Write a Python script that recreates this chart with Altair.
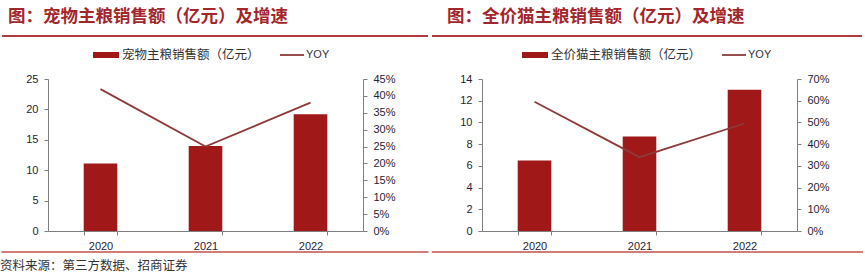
import altair as alt
import pandas as pd

years = ["2020", "2021", "2022"]
dog_sales = [11.1, 14.0, 19.2]
dog_yoy = [0.42, 0.25, 0.38]
cat_sales = [6.5, 8.7, 13.0]
cat_yoy = [0.595, 0.34, 0.495]

dog_title = "图：宠物主粮销售额（亿元）及增速"
cat_title = "图：全价猫主粮销售额（亿元）及增速"
dog_legend = "宠物主粮销售额（亿元）"
cat_legend = "全价猫主粮销售额（亿元）"
yoy_label = "YOY"
source_text = "资料来源：第三方数据、招商证券"

BAR = "#A01818"
LINE = "#8E3A3A"
TITLE = "#A3262B"
RED_LINE = "#B03A3E"
AXIS = "#7F7F7F"
LABEL = "#1F2433"
W, H = 315, 152
CJK = "Noto Sans CJK SC"


def one(txt):
    return pd.DataFrame({"t": [txt]})


def panel(sales, yoy, ymax, yvals, rmax, rvals, title, legend, frame, deco):
    df = pd.DataFrame({"year": years, "sales": sales, "yoy": yoy})
    base = alt.Chart(df)
    x = alt.X("year:N", sort=years,
              scale=alt.Scale(paddingInner=0.68, paddingOuter=0.34),
              axis=alt.Axis(title=None, labelAngle=0, tickBand="extent",
                            domainColor=AXIS, tickColor=AXIS, tickSize=4,
                            labelPadding=5, labelFont="Liberation Sans",
                            labelFontSize=11, labelColor=LABEL, grid=False))
    bars = base.mark_bar(color=BAR).encode(
        x=x,
        y=alt.Y("sales:Q", scale=alt.Scale(domain=[0, ymax], nice=False),
                axis=alt.Axis(title=None, values=yvals, grid=False,
                              domainColor=AXIS, tickColor=AXIS, tickSize=4,
                              labelPadding=6, labelFont="Liberation Sans",
                              labelFontSize=11, labelColor=LABEL)))
    line = base.mark_line(color=LINE, strokeWidth=1.8).encode(
        x=x,
        y=alt.Y("yoy:Q", scale=alt.Scale(domain=[0, rmax], nice=False),
                axis=alt.Axis(title=None, orient="right", values=rvals,
                              format=".0%", grid=False, domainColor=AXIS,
                              tickColor=AXIS, tickSize=4, labelPadding=6,
                              labelFont="Liberation Sans", labelFontSize=11,
                              labelColor=LABEL)))
    fx1, fx2 = frame
    frame_rule = alt.Chart(one("")).mark_rule(opacity=0).encode(
        x=alt.value(fx1), x2=alt.value(fx2), y=alt.value(-79))
    ux1, ux2, bx1, bx2, tx, sw_x, lx = deco
    underline = alt.Chart(one("")).mark_rule(color=RED_LINE, strokeWidth=2).encode(
        x=alt.value(ux1), x2=alt.value(ux2), y=alt.value(-43))
    bottom = alt.Chart(one("")).mark_rule(color="#C0504D", strokeWidth=1.5).encode(
        x=alt.value(bx1), x2=alt.value(bx2), y=alt.value(173))
    ttl = alt.Chart(one(title)).mark_text(
        align="left", baseline="alphabetic", font=CJK, fontSize=17.5,
        fontWeight="bold", color=TITLE).encode(
        text="t:N", x=alt.value(tx), y=alt.value(-57))
    sw = alt.Chart(one("")).mark_rect(color=BAR).encode(
        x=alt.value(sw_x), x2=alt.value(sw_x + 26),
        y=alt.value(-27), y2=alt.value(-21))
    lt = alt.Chart(one(legend)).mark_text(
        align="left", baseline="middle", font=CJK, fontSize=12.5,
        color="#333333").encode(text="t:N", x=alt.value(sw_x + 29), y=alt.value(-24))
    ls = alt.Chart(one("")).mark_rule(color=LINE, strokeWidth=1.8).encode(
        x=alt.value(lx), x2=alt.value(lx + 24), y=alt.value(-24))
    yt = alt.Chart(one(yoy_label)).mark_text(
        align="left", baseline="middle", font="Liberation Sans", fontSize=11,
        color="#333333").encode(text="t:N", x=alt.value(lx + 26), y=alt.value(-24))
    return alt.layer(bars, line, frame_rule, underline, bottom, ttl, sw, lt, ls, yt
                     ).resolve_scale(y="independent").properties(width=W, height=H)


left = panel(dog_sales, dog_yoy, 25, [0, 5, 10, 15, 20, 25], 0.45,
             [0, 0.05, 0.1, 0.15, 0.2, 0.25, 0.3, 0.35, 0.4, 0.45],
             dog_title, dog_legend, (-48, 382),
             (-46, 380, -46.5, 380.5, -40, 45, 232))
src = alt.Chart(one(source_text)).mark_text(
    align="left", baseline="alphabetic", font=CJK, fontSize=12.5,
    color="#333333").encode(text="t:N", x=alt.value(-48), y=alt.value(191))
left = alt.layer(left, src)

right = panel(cat_sales, cat_yoy, 14, [0, 2, 4, 6, 8, 10, 12, 14], 0.7,
              [0, 0.1, 0.2, 0.3, 0.4, 0.5, 0.6, 0.7],
              cat_title, cat_legend, (-52, 383),
              (-50, 380, -50, 381, -35, 40, 240))

chart = alt.hconcat(left, right, spacing=0).properties(
    padding={"left": 0, "top": 0, "right": 0, "bottom": 0}
).configure_view(stroke=None)

chart.save("out.html", embed_options={"renderer": "svg", "actions": False})
